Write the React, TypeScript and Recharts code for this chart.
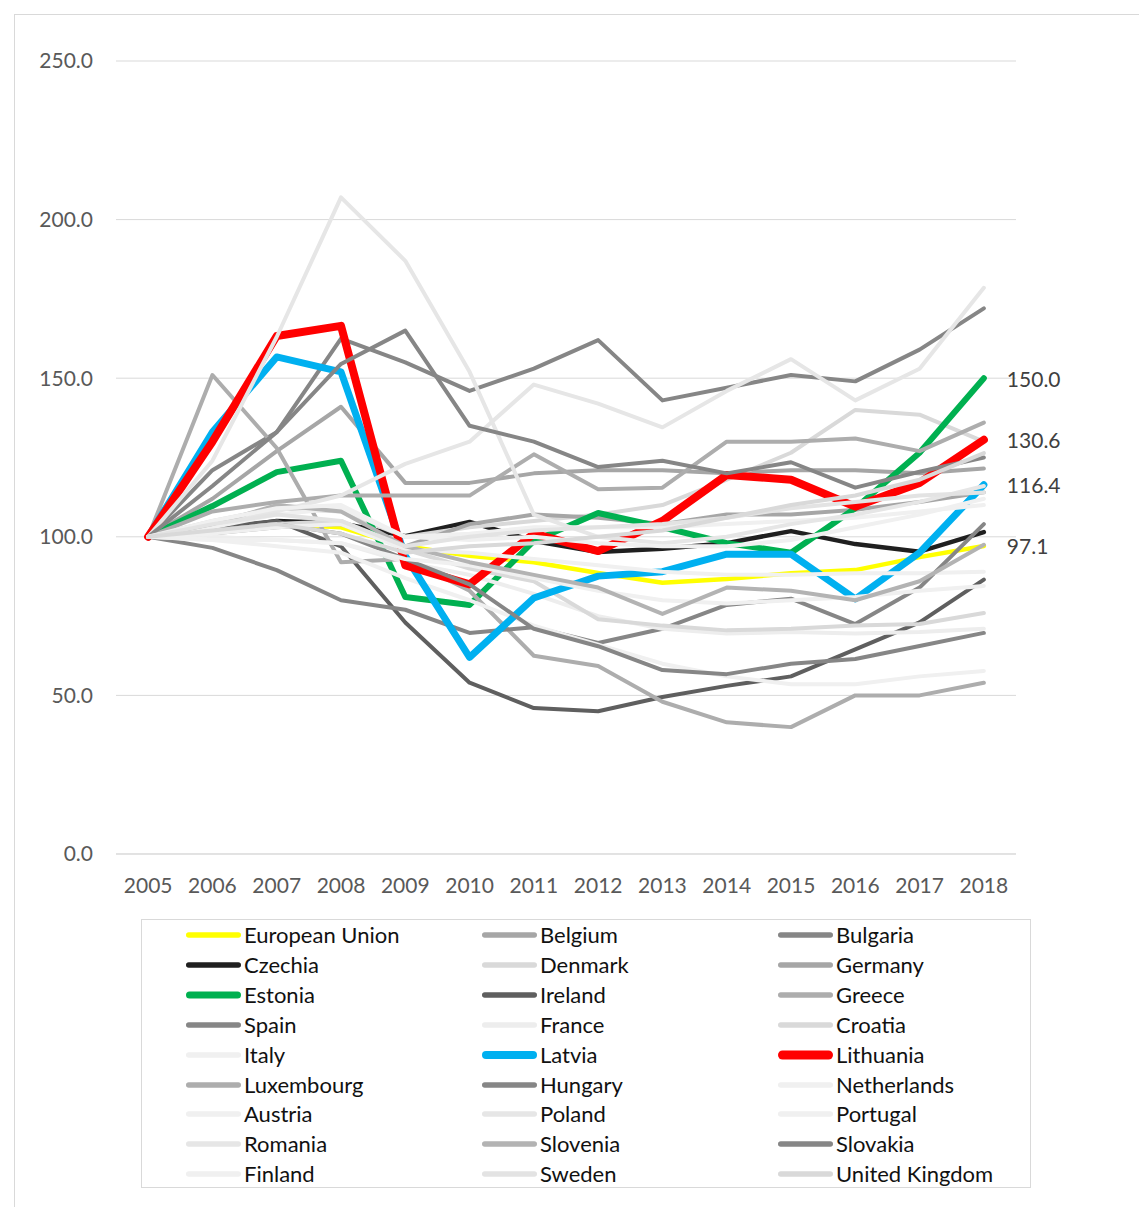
import React from 'react';
import { LineChart, Line, XAxis, YAxis, CartesianGrid } from 'recharts';

const years = ['2005', '2006', '2007', '2008', '2009', '2010', '2011', '2012', '2013', '2014', '2015', '2016', '2017', '2018'];
const yTicks = [0, 50, 100, 150, 200, 250];

const euValues = [100, 103, 104, 103, 97, 94, 92, 88.6, 85.5, 86.7, 88.5, 89.5, 93.6, 97.1];
const belgiumValues = [100, 112, 127, 141, 117, 117, 120, 121, 121, 120, 121, 121, 120, 121.5];
const bulgariaValues = [100, 121, 133, 162.5, 155, 146, 153, 162, 143, 147, 151, 149, 159, 172];
const czechiaValues = [100, 102, 105, 104.3, 100.2, 104.7, 98.7, 95.2, 96.2, 98, 101.8, 97.7, 95.3, 101.5];
const denmarkValues = [100, 105, 109, 108, 100, 103, 105, 107, 110, 118, 126.5, 140, 138.5, 130];
const germanyValues = [100, 101, 103, 104, 97, 104, 107, 106, 104, 107, 107, 108.5, 111, 114];
const estoniaValues = [100, 109.7, 120.4, 124, 81, 78.5, 98.7, 107.5, 103, 98, 95, 109, 126.5, 150];
const irelandValues = [100, 103, 105, 97, 73, 54, 46, 45, 49.5, 53, 56, 64.5, 73, 86.5];
const greeceValues = [100, 151, 128, 92, 93, 83, 62.5, 59.3, 48, 41.5, 40, 50, 50, 54];
const spainValues = [100, 96.5, 89.5, 80, 77, 69.7, 71.5, 66.5, 71, 78.5, 80.5, 72.5, 84, 104];
const franceValues = [100, 100, 99, 98, 92, 88, 82, 75, 71, 69.5, 70, 69.5, 70, 71];
const croatiaValues = [100, 102, 104, 105, 96, 90, 86, 74, 72, 70.5, 71, 72, 72.5, 76];
const italyValues = [100, 99, 97, 95, 87, 80, 72, 66, 60, 56, 53.5, 53.5, 56, 57.7];
const latviaValues = [100, 133, 156.7, 152, 94, 62, 80.7, 87.6, 89, 94.5, 94.5, 80.4, 95, 116.4];
const lithuaniaValues = [100, 130, 163.3, 166.5, 91, 85, 101, 95.5, 105, 119.5, 118, 109.5, 117, 130.6];
const luxembourgValues = [100, 108, 111, 113, 113, 113, 126, 115, 115.5, 130, 130, 131, 127, 136];
const hungaryValues = [100, 102, 104, 101, 93, 85, 71, 65.5, 58, 56.7, 60, 61.5, 65.6, 69.7];
const netherlandsValues = [100, 101, 103, 104, 96, 95, 93, 91, 89, 88, 88, 88.5, 88.5, 89];
const austriaValues = [100, 103, 107, 109, 100, 101, 103, 103, 103, 104, 105, 106, 108, 110];
const polandValues = [100, 104, 108, 113, 123, 130, 148, 142, 134.5, 146, 156, 143, 153, 178.5];
const portugalValues = [100, 99, 99, 98, 93, 91, 87, 83, 80, 79, 80, 81, 83, 84.5];
const romaniaValues = [100, 124, 163, 207, 187, 152, 107, 100, 98, 100, 104, 107, 111, 116];
const sloveniaValues = [100, 104, 110, 108, 97, 92, 88, 84, 75.7, 84, 83, 80, 86, 97.5];
const slovakiaValues = [100, 116, 133, 154.5, 165, 135, 130, 122, 124, 120, 123.5, 115.5, 120.5, 125];
const finlandValues = [100, 105, 109, 110, 100, 99, 100, 98, 97, 97, 99, 103, 107, 112];
const swedenValues = [100, 104, 107, 105, 97, 100, 102, 103, 104, 106, 109, 111, 113, 114];
const ukValues = [100, 102, 104, 101, 95, 97, 98, 100, 102, 106, 110, 113, 118, 126.4];

const seriesDefs = [
  { name: 'European Union', values: euValues },
  { name: 'Belgium', values: belgiumValues },
  { name: 'Bulgaria', values: bulgariaValues },
  { name: 'Czechia', values: czechiaValues },
  { name: 'Denmark', values: denmarkValues },
  { name: 'Germany', values: germanyValues },
  { name: 'Estonia', values: estoniaValues },
  { name: 'Ireland', values: irelandValues },
  { name: 'Greece', values: greeceValues },
  { name: 'Spain', values: spainValues },
  { name: 'France', values: franceValues },
  { name: 'Croatia', values: croatiaValues },
  { name: 'Italy', values: italyValues },
  { name: 'Latvia', values: latviaValues },
  { name: 'Lithuania', values: lithuaniaValues },
  { name: 'Luxembourg', values: luxembourgValues },
  { name: 'Hungary', values: hungaryValues },
  { name: 'Netherlands', values: netherlandsValues },
  { name: 'Austria', values: austriaValues },
  { name: 'Poland', values: polandValues },
  { name: 'Portugal', values: portugalValues },
  { name: 'Romania', values: romaniaValues },
  { name: 'Slovenia', values: sloveniaValues },
  { name: 'Slovakia', values: slovakiaValues },
  { name: 'Finland', values: finlandValues },
  { name: 'Sweden', values: swedenValues },
  { name: 'United Kingdom', values: ukValues },
];

const styles: Record<string, { color: string; width: number }> = {
  'European Union': { color: '#FFFF00', width: 4.5 },
  Belgium: { color: '#A6A6A6', width: 4 },
  Bulgaria: { color: '#868686', width: 4 },
  Czechia: { color: '#1F1F1F', width: 4.5 },
  Denmark: { color: '#D9D9D9', width: 4 },
  Germany: { color: '#A6A6A6', width: 4 },
  Estonia: { color: '#00B050', width: 6 },
  Ireland: { color: '#5F5F5F', width: 4 },
  Greece: { color: '#ADADAD', width: 4 },
  Spain: { color: '#868686', width: 4 },
  France: { color: '#EDEDED', width: 4 },
  Croatia: { color: '#D9D9D9', width: 4 },
  Italy: { color: '#F0F0F0', width: 4 },
  Latvia: { color: '#00B0F0', width: 7 },
  Lithuania: { color: '#FF0000', width: 8 },
  Luxembourg: { color: '#ADADAD', width: 4 },
  Hungary: { color: '#868686', width: 4 },
  Netherlands: { color: '#F0F0F0', width: 4 },
  Austria: { color: '#F0F0F0', width: 4 },
  Poland: { color: '#E6E6E6', width: 4 },
  Portugal: { color: '#F0F0F0', width: 4 },
  Romania: { color: '#E6E6E6', width: 4 },
  Slovenia: { color: '#B3B3B3', width: 4 },
  Slovakia: { color: '#868686', width: 4 },
  Finland: { color: '#F0F0F0', width: 4 },
  Sweden: { color: '#E3E3E3', width: 4 },
  'United Kingdom': { color: '#D9D9D9', width: 4 },
};

const labelled = new Set(['European Union', 'Estonia', 'Latvia', 'Lithuania']);

const data = years.map((y, i) => {
  const row: Record<string, number | string> = { idx: i, year: y };
  seriesDefs.forEach((s) => {
    row[s.name] = s.values[i];
  });
  return row;
});

const labelTicks = years.map((_, i) => i);
const boundaryTicks = [...years.map((_, i) => i - 0.5), years.length - 0.5];

const FONT = 'Lato, "Open Sans", sans-serif';

const EndLabel = (props: any) => {
  const { x, y, index, value } = props;
  if (index !== years.length - 1) return <g />;
  return (
    <text x={x + 23} y={y} dominantBaseline="central" fill="#404040" fontSize={21} fontFamily={FONT}>
      {Number(value).toFixed(1)}
    </text>
  );
};

const EmptyTick = () => <g />;

export default function App() {
  return (
    <div style={{ position: 'relative', width: 1139, height: 1199, fontFamily: FONT }}>
      <div
        style={{
          position: 'absolute',
          left: 6,
          top: 6,
          width: 1133,
          height: 1193,
          borderTop: '1px solid #D9D9D9',
          borderLeft: '1px solid #D9D9D9',
          boxSizing: 'border-box',
        }}
      />
      <div style={{ position: 'absolute', left: 0, top: 0 }}>
        <LineChart
          width={1139}
          height={1199}
          data={data}
          margin={{ top: 53, right: 131, bottom: 323, left: 48 }}
          style={{ fontFamily: FONT }}
        >
          <CartesianGrid xAxisId="main" horizontal vertical={false} stroke="#D9D9D9" strokeWidth={1} />
          <XAxis
            xAxisId="tk"
            type="number"
            dataKey="idx"
            domain={[-0.5, years.length - 0.5]}
            ticks={boundaryTicks}
            interval={0}
            tick={EmptyTick}
            tickLine={{ stroke: '#D9D9D9' }}
            axisLine={false}
            tickSize={8}
            height={0}
          />
          <XAxis
            xAxisId="main"
            type="number"
            dataKey="idx"
            domain={[-0.5, years.length - 0.5]}
            ticks={labelTicks}
            interval={0}
            tickFormatter={(v: number) => years[v]}
            tickLine={false}
            axisLine={{ stroke: '#D9D9D9' }}
            tickSize={8}
            tickMargin={16}
            height={30}
            tick={{ fill: '#595959', fontSize: 21, fontFamily: FONT }}
          />
          <YAxis
            domain={[0, 250]}
            ticks={yTicks}
            interval={0}
            tickFormatter={(v: number) => v.toFixed(1)}
            axisLine={false}
            tickLine={false}
            tickMargin={17}
            width={60}
            tick={{ fill: '#595959', fontSize: 21, fontFamily: FONT }}
          />
          {seriesDefs.map((s) => (
            <Line
              key={s.name}
              xAxisId="main"
              type="linear"
              dataKey={s.name}
              stroke={styles[s.name].color}
              strokeWidth={styles[s.name].width}
              strokeLinecap="round"
              strokeLinejoin="round"
              dot={false}
              activeDot={false}
              isAnimationActive={false}
              label={labelled.has(s.name) ? EndLabel : undefined}
            />
          ))}
        </LineChart>
      </div>
      <div
        style={{
          position: 'absolute',
          left: 133,
          top: 911,
          width: 890,
          height: 269,
          border: '1px solid #D9D9D9',
          boxSizing: 'border-box',
        }}
      >
        {seriesDefs.map((s, i) => {
          const col = i % 3;
          const row = Math.floor(i / 3);
          const st = styles[s.name];
          const w = Math.max(st.width + 1, 5.5);
          return (
            <div
              key={s.name}
              style={{
                position: 'absolute',
                left: 43 + col * 296,
                top: 0 + row * 29.9,
                height: 30,
                display: 'flex',
                alignItems: 'center',
                whiteSpace: 'nowrap',
              }}
            >
              <svg width={57} height={12} style={{ display: 'block' }}>
                <line
                  x1={w / 2 + 1}
                  y1={6}
                  x2={56 - w / 2}
                  y2={6}
                  stroke={st.color}
                  strokeWidth={w}
                  strokeLinecap="round"
                />
              </svg>
              <span style={{ fontSize: 22, color: '#111', marginLeft: 2, lineHeight: '30px' }}>{s.name}</span>
            </div>
          );
        })}
      </div>
    </div>
  );
}
